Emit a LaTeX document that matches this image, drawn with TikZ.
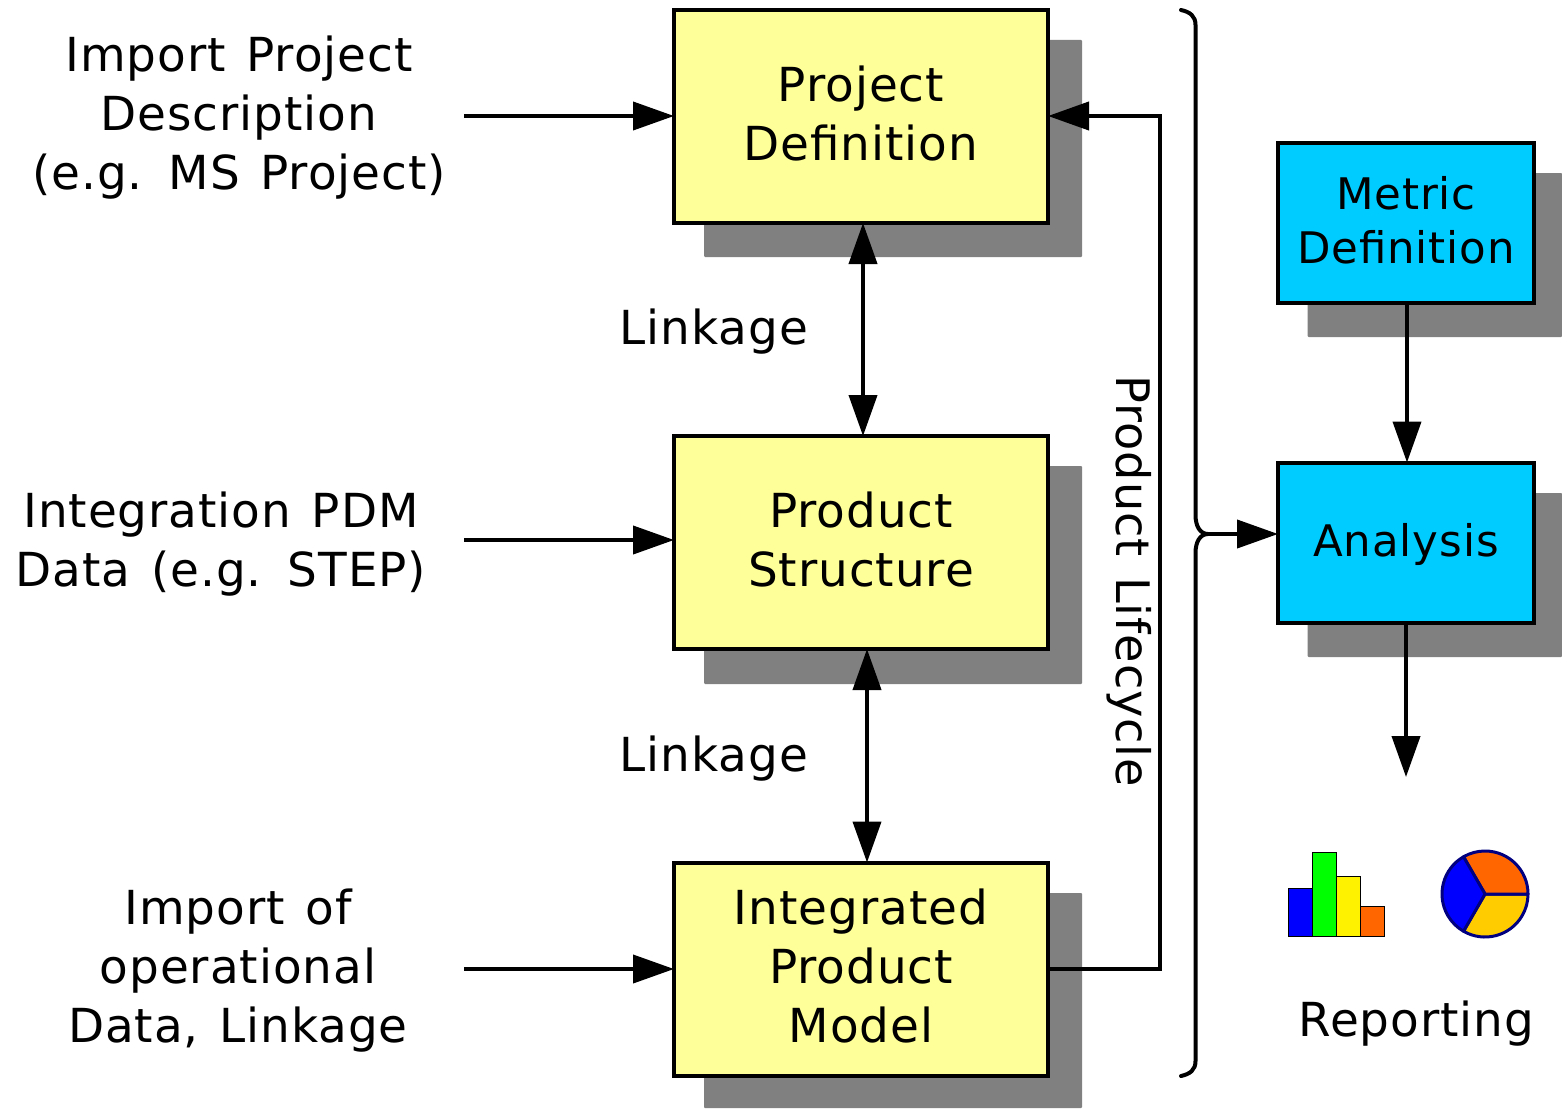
\documentclass[tikz,border=0pt]{standalone}
\usepackage{fontspec}
\setmainfont[LetterSpace=2,WordSpace=1.3]{DejaVu Sans}
\usetikzlibrary{arrows.meta}
\newcommand{\lift}[1]{\rule[-#1]{0pt}{0pt}}
\tikzset{
  x=1pt,y=-1pt,
  big/.style={font=\fontsize{46.9}{59}\selectfont},
  small/.style={font=\fontsize{43.5}{54}\selectfont},
  lbl/.style={big,align=center,inner sep=0pt},
  yellowbox/.style={draw=black,line width=4pt,fill=ybox,minimum width=374pt,minimum height=213pt,inner sep=0pt,align=center,big},
  bluebox/.style={draw=black,line width=4pt,fill=bbox,minimum width=256pt,minimum height=160pt,inner sep=0pt,align=center,small},
  shadowbox/.style={fill=shade,draw=none,rounded corners=1pt},
  conn/.style={draw=black,line width=4pt,shorten >=-2pt,-{Triangle[length=41pt,width=28pt]}},
  biconn/.style={draw=black,line width=4pt,shorten >=-2pt,shorten <=-2pt,{Triangle[length=41pt,width=28pt]}-{Triangle[length=41pt,width=28pt]}},
  brace/.style={draw=black,line width=4pt,line cap=round},
  bar/.style={draw=black,line width=1pt},
  piepart/.style={draw=piedge,line width=3pt,line join=round},
}
\definecolor{ybox}{HTML}{FFFF99}
\definecolor{bbox}{HTML}{00CCFF}
\definecolor{shade}{HTML}{808080}
\definecolor{piedge}{HTML}{000080}
\definecolor{orng}{HTML}{FF6600}
\definecolor{gold}{HTML}{FFCC00}
\begin{document}
\begin{tikzpicture}
\useasboundingbox (0,0) rectangle (1562,1108);
% shadows
\fill[shadowbox] (704,40) rectangle (1082,257);
\fill[shadowbox] (704,466) rectangle (1082,684);
\fill[shadowbox] (704,893) rectangle (1082,1108);
\fill[shadowbox] (1307.5,173) rectangle (1562,337);
\fill[shadowbox] (1307.5,493) rectangle (1562,657);
% boxes
\node[yellowbox] (p1) at (861,116.5) {Project\\Definition\lift{6pt}};
\node[yellowbox] (p2) at (861,542.5) {Product\\Structure\lift{6pt}};
\node[yellowbox] (p3) at (861,969) {Integrated\\Product\\Model\lift{6pt}};
\node[bluebox] (m) at (1406,223) {Metric\\Definition\lift{7pt}};
\node[bluebox] (a) at (1406,542.5) {\rule{0pt}{37pt}Analysis};
% left labels
\node[lbl] (t1) at (239,118) {Import Project\\Description\\(e.g. MS Project)};
\node[lbl] (t2) at (221,544) {Integration PDM\\Data (e.g. STEP)};
\node[lbl] (t3) at (238,971) {Import of\\operational\\Data, Linkage};
\coordinate (s1) at (464,116);
\coordinate (s2) at (464,540);
\coordinate (s3) at (464,969);
\draw[conn] (s1) -- (s1 -| p1.west);
\draw[conn] (s2) -- (s2 -| p2.west);
\draw[conn] (s3) -- (s3 -| p3.west);
% linkage
\node[lbl] (l1) at (714,332) {Linkage};
\node[lbl] (l2) at (714,759) {Linkage};
\coordinate (v1) at (863,330);
\coordinate (v2) at (867,755);
\draw[biconn] (v1 |- p1.south) -- (v1 |- p2.north);
\draw[biconn] (v2 |- p2.south) -- (v2 |- p3.north);
% feedback
\coordinate (fb) at (1160,116);
\draw[conn,line join=miter] (p3.east) -- (fb |- p3.east) -- (fb) -- (fb -| p1.east);
\node[lbl,rotate=-90,font=\fontsize{46.2}{59}\selectfont] (pl) at (1129,581.5) {Product Lifecycle};
% brace
\coordinate (bt) at (1181,10);
\coordinate (bb) at (1181,1076);
\coordinate (bm) at (1208,534);
\draw[brace] (bt) .. controls (1190,12) and (1195.5,16) .. (1195.5,25) -- (1195.5,515)
  .. controls (1195.5,526) and (1200,534) .. (bm)
  .. controls (1200,534) and (1195.5,542) .. (1195.5,553) -- (1195.5,1061)
  .. controls (1195.5,1070) and (1190,1074) .. (bb);
\draw[conn] (bm) -- (bm -| a.west);
% right arrows
\coordinate (e) at (1406,775);
\coordinate (v3) at (1407,380);
\draw[conn] (v3 |- m.south) -- (v3 |- a.north);
\draw[conn] (a.south) -- (e);
% bars
\draw[bar,fill=blue] (1288,888) rectangle (1312,936);
\draw[bar,fill=green] (1312,852) rectangle (1336,936);
\draw[bar,fill=yellow] (1336,876) rectangle (1360,936);
\draw[bar,fill=orng] (1360,906) rectangle (1384,936);
% pie
\coordinate (c) at (1485,894);
\def\R{43}
\draw[piepart,fill=gold] (c) -- ++(120:\R) arc (120:0:\R) -- cycle;
\draw[piepart,fill=orng] (c) -- ++(0:\R) arc (0:-120:\R) -- cycle;
\draw[piepart,fill=blue] (c) -- ++(-120:\R) arc (-120:-240:\R) -- cycle;
\node[lbl] (r) at (1416.5,1024) {Reporting};
\end{tikzpicture}
\end{document}
